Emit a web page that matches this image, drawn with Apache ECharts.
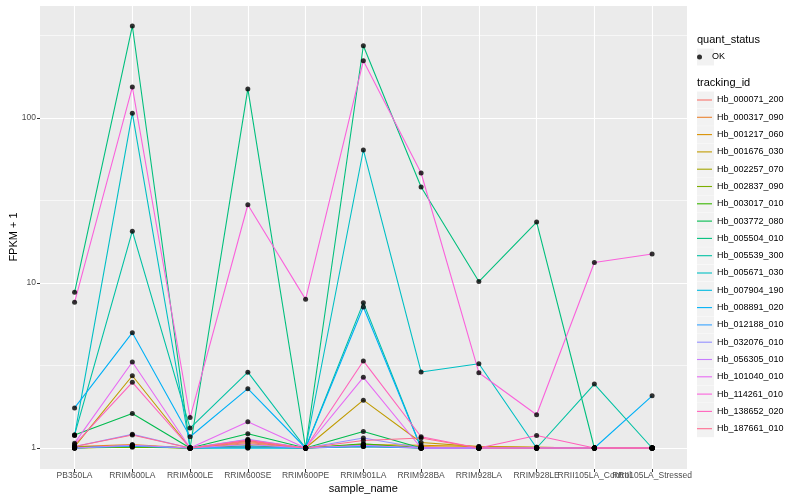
<!DOCTYPE html>
<html><head><meta charset="utf-8">
<script src="https://cdn.jsdelivr.net/npm/echarts/dist/echarts.min.js"></script>
<style>html,body{margin:0;padding:0;background:#fff}#c{width:800px;height:500px}</style>
</head><body><div id="c"></div>
<script>
// ---- data ----
const categories = ['PB350LA','RRIM600LA','RRIM600LE','RRIM600SE','RRIM600PE','RRIM901LA','RRIM928BA','RRIM928LA','RRIM928LE','RRII105LA_Control','RRII105LA_Stressed'];
const trackingIds = ['Hb_000071_200','Hb_000317_090','Hb_001217_060','Hb_001676_030','Hb_002257_070','Hb_002837_090','Hb_003017_010','Hb_003772_080','Hb_005504_010','Hb_005539_300','Hb_005671_030','Hb_007904_190','Hb_008891_020','Hb_012188_010','Hb_032076_010','Hb_056305_010','Hb_101040_010','Hb_114261_010','Hb_138652_020','Hb_187661_010'];
const yTicks = [1, 10, 100];
const minorGrid = [3.162, 31.62, 316.2];

const v000071_200 = [1.00, 1.04, 1.00, 1.08, 1.00, 1.02, 1.00, 1.00, 1.00, 1.00, 1.00];
const v000317_090 = [1.02, 1.05, 1.00, 1.06, 1.00, 1.03, 1.02, 1.00, 1.00, 1.00, 1.00];
const v001217_060 = [1.01, 1.03, 1.00, 1.11, 1.00, 1.05, 1.04, 1.02, 1.01, 1.00, 1.00];
const v001676_030 = [1.02, 2.74, 1.00, 1.10, 1.00, 1.95, 1.08, 1.02, 1.01, 1.00, 1.00];
const v002257_070 = [1.00, 1.02, 1.00, 1.02, 1.00, 1.04, 1.00, 1.00, 1.00, 1.00, 1.00];
const v002837_090 = [1.00, 1.01, 1.00, 1.01, 1.00, 1.05, 1.00, 1.00, 1.00, 1.00, 1.00];
const v003017_010 = [1.01, 1.02, 1.00, 1.03, 1.00, 1.06, 1.00, 1.00, 1.00, 1.00, 1.00];
const v003772_080 = [1.20, 1.62, 1.00, 1.22, 1.00, 1.26, 1.00, 1.00, 1.00, 1.00, 1.00];
const v005504_010 = [8.78, 361, 1.00, 150, 1.00, 274, 38.2, 10.2, 23.4, 1.00, 1.00];
const v005539_300 = [1.20, 20.6, 1.32, 2.88, 1.00, 7.60, 1.00, 1.00, 1.00, 2.44, 1.00];
const v005671_030 = [1.19, 107, 1.00, 1.00, 1.00, 64.0, 2.89, 3.24, 1.00, 1.00, 1.00];
const v007904_190 = [1.00, 1.03, 1.00, 1.00, 1.00, 1.02, 1.00, 1.00, 1.00, 1.00, 1.00];
const v008891_020 = [1.75, 5.00, 1.17, 2.29, 1.00, 7.15, 1.00, 1.00, 1.00, 1.00, 2.07];
const v012188_010 = [1.00, 1.03, 1.00, 1.02, 1.00, 1.03, 1.00, 1.00, 1.00, 1.00, 1.00];
const v032076_010 = [1.02, 1.21, 1.00, 1.13, 1.00, 1.15, 1.00, 1.00, 1.00, 1.00, 1.00];
const v056305_010 = [1.00, 1.04, 1.00, 1.05, 1.00, 1.04, 1.00, 1.00, 1.00, 1.00, 1.00];
const v101040_010 = [1.07, 3.32, 1.00, 1.44, 1.00, 2.68, 1.00, 1.00, 1.00, 1.00, 1.00];
const v114261_010 = [7.64, 154, 1.53, 29.8, 7.96, 222, 46.4, 2.86, 1.59, 13.3, 15.0];
const v138652_020 = [1.05, 2.50, 1.00, 1.12, 1.00, 3.37, 1.17, 1.00, 1.19, 1.00, 1.00];
const v187661_010 = [1.02, 1.20, 1.00, 1.10, 1.00, 1.11, 1.15, 1.00, 1.00, 1.00, 1.00];

const seriesValues = [v000071_200, v000317_090, v001217_060, v001676_030, v002257_070, v002837_090, v003017_010, v003772_080, v005504_010, v005539_300, v005671_030, v007904_190, v008891_020, v012188_010, v032076_010, v056305_010, v101040_010, v114261_010, v138652_020, v187661_010];

// ---- style ----
const palette = ['#F8766D','#EA8331','#D89000','#C09B00','#A3A500','#7CAE00','#39B600','#00BB4E','#00BF7D','#00C1A3','#00BFC4','#00BAE0','#00B0F6','#35A2FF','#9590FF','#C77CFF','#E76BF3','#FA62DB','#FF62BC','#FF6C91'];
const FONT = 'Liberation Sans, Arial, Helvetica, sans-serif';
const LEG_X = 697, OK_TOP = 48.5, ID_TOP = 91.5, ROW = 17.3;
const Y_MIN = 0.746, Y_MAX = 484;

const chart = echarts.init(document.getElementById('c'), null, {renderer: 'canvas'});

const lineSeries = trackingIds.map((id, i) => ({
  name: id, type: 'line', data: seriesValues[i], xAxisIndex: 1, yAxisIndex: 1,
  showSymbol: false, symbol: 'none', silent: true, z: 3,
  color: palette[i],
  lineStyle: {width: 1.1, color: palette[i]},
  itemStyle: {color: palette[i]}
}));

const points = [];
seriesValues.forEach(arr => arr.forEach((v, j) => points.push([categories[j], v])));

const panelGridSeries = {
  type: 'line', data: [], silent: true, z: 1, xAxisIndex: 0, yAxisIndex: 0,
  markLine: {
    silent: true, symbol: 'none', animation: false, z: 1,
    label: {show: false},
    data: minorGrid.map(v => ({yAxis: v, lineStyle: {color: '#ffffff', width: 0.6, type: 'solid'}}))
  }
};
const catGridSeries = {
  type: 'line', data: [], silent: true, z: 1, xAxisIndex: 1, yAxisIndex: 1,
  markLine: {
    silent: true, symbol: 'none', animation: false, z: 1,
    label: {show: false},
    data: categories.map(c => ({xAxis: c, lineStyle: {color: '#ffffff', width: 1.1, type: 'solid'}}))
  }
};

const graphics = [
  {type: 'text', left: LEG_X, top: 34, style: {text: 'quant_status', font: '11px ' + FONT, fill: '#000'}},
  {type: 'text', left: LEG_X, top: 77, style: {text: 'tracking_id', font: '11px ' + FONT, fill: '#000'}},
  {type: 'rect', shape: {x: LEG_X, y: OK_TOP, width: 17, height: 17}, style: {fill: '#F2F2F2'}, z: 0}
];
trackingIds.forEach((id, i) => graphics.push({type: 'rect', shape: {x: LEG_X, y: ID_TOP + i * ROW, width: 17, height: 17}, style: {fill: '#F2F2F2'}, z: 0}));

const option = {
  animation: false,
  backgroundColor: '#ffffff',
  textStyle: {fontFamily: FONT},
  grid: [
    {left: 40, right: 113, top: 5, bottom: 31, show: true, backgroundColor: '#EBEBEB', borderWidth: 0, containLabel: false, outerBoundsMode: 'none'},
    {left: 45.7, right: 119, top: 5, bottom: 31, show: false, containLabel: false, outerBoundsMode: 'none'}
  ],
  xAxis: [
    {gridIndex: 0, type: 'value', min: 0, max: 1, show: false},
    {
      gridIndex: 1, type: 'category', data: categories, boundaryGap: true,
      name: 'sample_name', nameLocation: 'middle', nameGap: 14, nameMoveOverlap: false,
      nameTextStyle: {fontSize: 11, color: '#000', fontFamily: FONT},
      axisLine: {show: false},
      axisTick: {show: true, alignWithLabel: true, length: 3, lineStyle: {color: '#333333', width: 1}},
      axisLabel: {interval: 0, fontSize: 8.5, color: '#4D4D4D', margin: 2, fontFamily: FONT, hideOverlap: false},
      splitLine: {show: false}
    }
  ],
  yAxis: [
    {
      gridIndex: 0, type: 'log', logBase: 10, min: Y_MIN, max: Y_MAX,
      name: 'FPKM + 1', nameLocation: 'middle', nameGap: 21, nameRotate: 90, nameMoveOverlap: false,
      nameTextStyle: {fontSize: 11, color: '#000', fontFamily: FONT},
      axisLine: {show: false},
      axisTick: {show: true, length: 3, lineStyle: {color: '#333333', width: 1}},
      axisLabel: {fontSize: 8.5, color: '#4D4D4D', margin: 4, fontFamily: FONT, showMinLabel: false, showMaxLabel: false,
        formatter: v => (yTicks.indexOf(Math.round(v)) >= 0 ? String(Math.round(v)) : '')},
      splitLine: {show: true, lineStyle: {color: '#ffffff', width: 1.1}},
      minorSplitLine: {show: false}
    },
    {gridIndex: 1, type: 'log', logBase: 10, min: Y_MIN, max: Y_MAX, show: false,
      axisLabel: {show: false}, axisTick: {show: false}, axisLine: {show: false}, splitLine: {show: false}}
  ],
  legend: [
    {
      orient: 'vertical', left: LEG_X, top: OK_TOP, padding: 0, itemGap: 0,
      itemWidth: 15, itemHeight: 5, selectedMode: false,
      textStyle: {fontSize: 9, color: '#000', lineHeight: 17, fontFamily: FONT},
      data: [{name: 'OK', icon: 'circle', itemStyle: {color: '#000'}}]
    },
    {
      orient: 'vertical', left: LEG_X, top: ID_TOP, padding: 0, itemGap: ROW - 17,
      itemWidth: 15, itemHeight: 1.1, selectedMode: false,
      textStyle: {fontSize: 9, color: '#000', lineHeight: 17, fontFamily: FONT},
      data: trackingIds.map((id, i) => ({name: id, icon: 'rect', itemStyle: {color: palette[i]}}))
    }
  ],
  graphic: graphics,
  series: [panelGridSeries, catGridSeries].concat(lineSeries).concat([{
    name: 'OK', type: 'scatter', data: points, xAxisIndex: 1, yAxisIndex: 1,
    symbol: 'circle', symbolSize: 5, silent: true, z: 5,
    itemStyle: {color: '#000000'}
  }])
};
chart.setOption(option);
</script></body></html>
